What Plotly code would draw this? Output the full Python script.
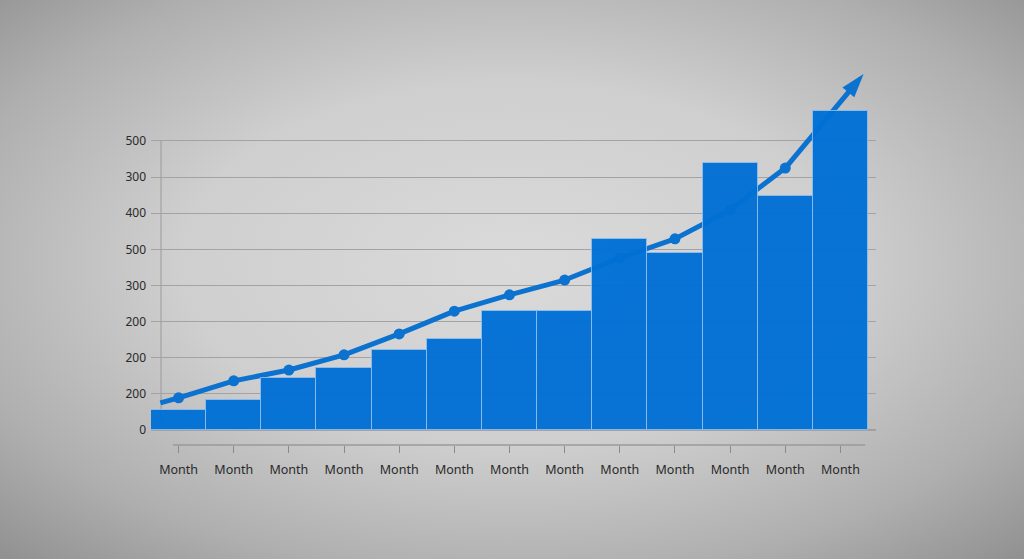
import base64
import plotly.graph_objects as go

# ---- data ----
months = ["Month"] * 13
bar_values = [55, 83, 145, 172, 222, 253, 330, 330, 530, 491, 740, 648, 884]

trend_x = [-0.33, 0, 1, 2, 3, 4, 5, 6, 7, 8, 9, 10, 11, 12.42]
trend_y = [75, 89, 136, 166, 208, 266, 329, 374, 415, 476, 529, 609, 725, 985]

ytick_vals = [0, 100, 200, 300, 400, 500, 600, 700, 800]
ytick_text = ["0", "200", "200", "200", "300", "500", "400", "300", "500"]

BLUE = "#0070d6"
LINE_BLUE = "#0b72d0"

W, H = 1024, 559
L, R, T, B = 151, 148, 60, 114
pw, ph = W - L - R, H - T - B

svg = f"""<svg xmlns='http://www.w3.org/2000/svg' width='{W}' height='{H}'>
<defs><radialGradient id='g' cx='50%' cy='47%' r='72%'>
<stop offset='0' stop-color='#dadada'/>
<stop offset='0.45' stop-color='#cfcfcf'/>
<stop offset='0.78' stop-color='#afafaf'/>
<stop offset='1' stop-color='#929292'/>
</radialGradient></defs>
<rect width='{W}' height='{H}' fill='url(#g)'/></svg>"""
bg = "data:image/svg+xml;base64," + base64.b64encode(svg.encode()).decode()

xs = list(range(len(months)))

fig = go.Figure()

sizes = [0] + [11] * (len(trend_x) - 2) + [25]
symbols = ["circle"] * (len(trend_x) - 1) + ["arrow"]
fig.add_trace(go.Scatter(
    x=trend_x, y=trend_y, mode="lines+markers",
    line=dict(color=LINE_BLUE, width=5),
    marker=dict(size=sizes, symbol=symbols, color=LINE_BLUE, angleref="previous",
                line=dict(width=0), opacity=1),
    yaxis="y", showlegend=False, hoverinfo="skip",
))

fig.add_trace(go.Bar(
    x=xs, y=bar_values, width=1.0, yaxis="y2",
    marker=dict(color=BLUE, line=dict(color="rgba(140,190,240,0.9)", width=1)),
    opacity=0.96, showlegend=False,
))

yr = [-41.5, 1024]
fig.update_layout(
    width=W, height=H,
    margin=dict(l=L, r=R, t=T, b=B, pad=0),
    paper_bgcolor="rgba(0,0,0,0)", plot_bgcolor="rgba(0,0,0,0)",
    bargap=0,
    font=dict(family="Noto Sans", size=12, color="#333333"),
    xaxis=dict(
        range=[-0.5, 12.645], tickvals=xs, ticktext=months,
        showgrid=False, zeroline=False, showline=False,
        ticks="outside", ticklen=7, tickcolor="#8a8a8a", tickwidth=1,
        tickfont=dict(size=12.5, color="#2a2a2a"), ticklabelstandoff=6,
    ),
    yaxis=dict(
        range=yr, tickvals=ytick_vals, ticktext=ytick_text,
        showgrid=True, gridcolor="#a3a3a3", gridwidth=1,
        zeroline=False, showline=False, ticks="",
        tickfont=dict(size=12, color="#2a2a2a"), ticklabelstandoff=4,
    ),
    yaxis2=dict(range=yr, overlaying="y", visible=False, showgrid=False),
    images=[dict(
        source=bg, xref="paper", yref="paper",
        x=-L / pw, y=1 + T / ph, sizex=W / pw, sizey=H / ph,
        xanchor="left", yanchor="top", sizing="stretch", layer="below",
    )],
    shapes=[
        dict(type="line", xref="paper", yref="y", x0=10 / pw, x1=10 / pw,
             y0=0, y1=800, line=dict(color="#9a9a9a", width=1), layer="below"),
        dict(type="line", xref="paper", yref="y", x0=0, x1=1, y0=0, y1=0,
             line=dict(color="#9c9c9c", width=2), layer="below"),
        dict(type="line", xref="x", yref="paper", x0=-0.1, x1=12.45, y0=0, y1=0,
             line=dict(color="#9a9a9a", width=1.5), layer="below"),
    ],
)

fig.write_html(
    "out.html",
    config={"displayModeBar": False},
    post_script="document.body.style.margin='0';document.body.style.overflow='hidden';",
)
